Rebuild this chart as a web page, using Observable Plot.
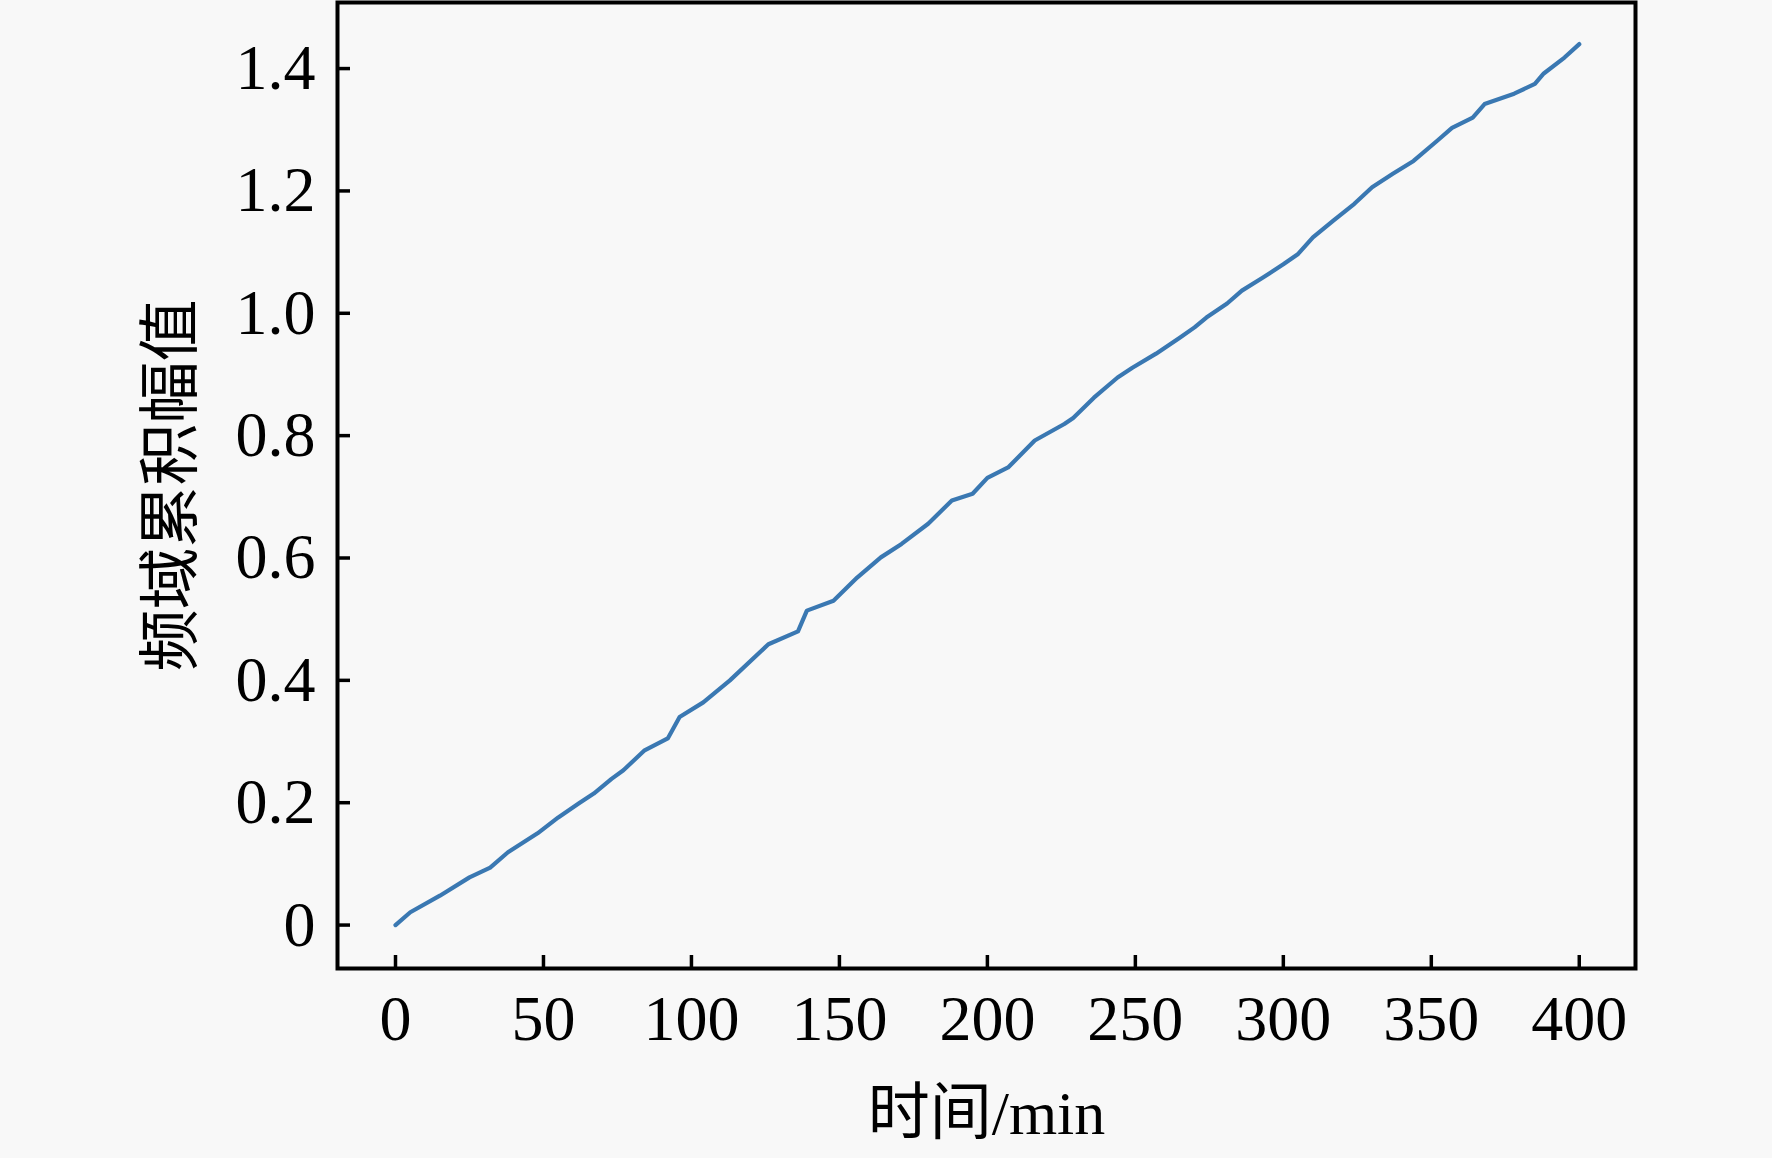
<!DOCTYPE html>
<html>
<head>
<meta charset="utf-8">
<script src="https://cdn.jsdelivr.net/npm/d3@7"></script>
<script src="https://cdn.jsdelivr.net/npm/@observablehq/plot@0.6"></script>
<style>
  body { margin: 0; background: #f8f8f8; }
  #chart svg { display: block; background: transparent; }
</style>
</head>
<body>
<div id="chart"></div>
<script>
// 时间 (min) 与 频域累积幅值
const times = [0, 5, 15, 25, 32, 38, 48, 55, 62, 67, 73, 77, 84, 92, 96, 104, 113, 126, 136, 139,
  148, 156, 164, 171, 180, 188, 195, 200, 207, 216, 226, 229, 236, 244, 249, 257, 265, 270, 274, 281,
  286, 293, 300, 305, 310, 317, 324, 330, 337, 344, 352, 357, 364, 368, 378, 385, 388, 395, 400]
const values = [0, 0.021, 0.048, 0.078, 0.094, 0.119, 0.150, 0.176, 0.199, 0.215, 0.239, 0.253, 0.285, 0.305, 0.340, 0.364, 0.400, 0.459, 0.480, 0.514,
  0.530, 0.568, 0.601, 0.623, 0.656, 0.694, 0.705, 0.731, 0.748, 0.792, 0.819, 0.829, 0.862, 0.895, 0.911, 0.934, 0.960, 0.977, 0.993, 1.016,
  1.037, 1.058, 1.080, 1.097, 1.124, 1.152, 1.179, 1.206, 1.228, 1.249, 1.282, 1.303, 1.320, 1.342, 1.359, 1.375, 1.392, 1.418, 1.440]

const xTicks = [0, 50, 100, 150, 200, 250, 300, 350, 400]
const yTicks = [0, 0.2, 0.4, 0.6, 0.8, 1.0, 1.2, 1.4]

const xTitle = "时间/min"
const yTitle = "频域累积幅值"

const data = times.map((t, i) => ({t, v: values[i]}))

const width = 1772, height = 1158
const mL = 337, mR = 137, mT = 2, mB = 190
const innerW = width - mL - mR
const innerH = height - mT - mB
const font = "'Liberation Serif', 'Times New Roman', 'Noto Sans CJK SC', serif"

let chart = Plot.plot({
  width, height,
  marginLeft: mL, marginRight: mR, marginTop: mT, marginBottom: mB,
  style: {fontFamily: font, color: "black", background: "transparent"},
  x: {domain: [-19.6, 419]},
  y: {domain: [-0.071, 1.508]},
  marks: [
    Plot.line(data, {x: "t", y: "v", stroke: "#3a78b2", strokeWidth: 4.2}),
    // 向内的刻度
    Plot.tickX(xTicks, {x: d => d, stroke: "black", strokeWidth: 3.5, insetTop: innerH - 13}),
    Plot.tickY(yTicks, {y: d => d, stroke: "black", strokeWidth: 3.5, insetRight: innerW - 13}),
    Plot.axisX({ticks: xTicks, tickSize: 0, tickPadding: 26, fontSize: 64, label: null}),
    Plot.axisY({ticks: yTicks, tickSize: 0, tickPadding: 22, fontSize: 64, label: null,
      tickFormat: d => d === 0 ? "0" : d.toFixed(1)}),
    Plot.frame({stroke: "black", strokeWidth: 4}),
    Plot.text([xTitle], {frameAnchor: "bottom", dy: 146, fontSize: 62, lineAnchor: "middle",
      fontFamily: "'Liberation Serif', 'Noto Sans CJK SC', serif"}),
    Plot.text([yTitle], {frameAnchor: "left", dx: -165, rotate: -90, fontSize: 62,
      textAnchor: "middle", lineAnchor: "middle",
      fontFamily: "'Noto Sans CJK SC', serif"})
  ]
})
d3.select('#chart').append(() => chart)
</script>
</body>
</html>
